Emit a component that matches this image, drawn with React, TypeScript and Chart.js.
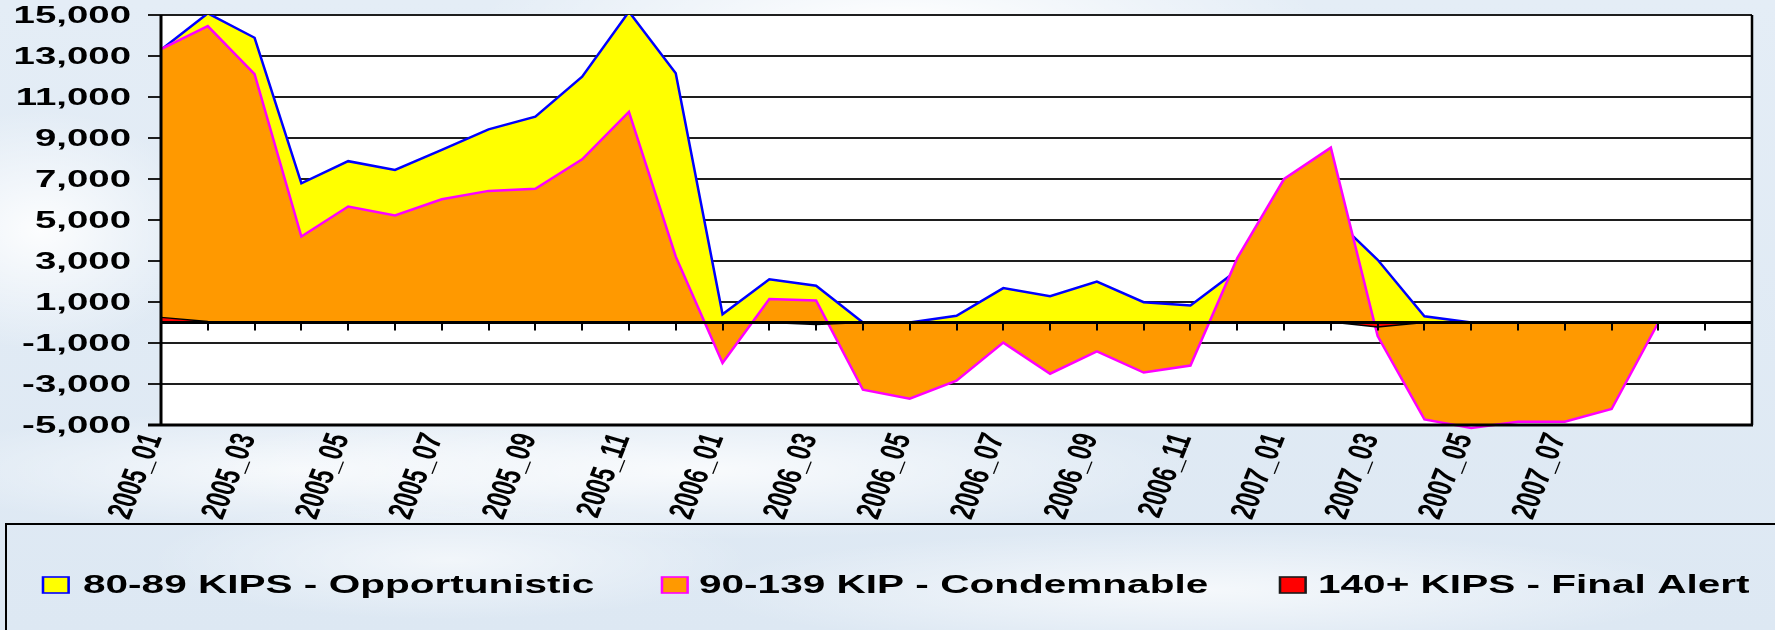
import React, { useEffect, useRef } from 'react';
import { Chart, registerables } from 'chart.js';

Chart.register(...registerables);

// ---------------- data ----------------
const categories = [
  '2005_01', '2005_02', '2005_03', '2005_04', '2005_05', '2005_06', '2005_07', '2005_08', '2005_09', '2005_10', '2005_11', '2005_12',
  '2006_01', '2006_02', '2006_03', '2006_04', '2006_05', '2006_06', '2006_07', '2006_08', '2006_09', '2006_10', '2006_11', '2006_12',
  '2007_01', '2007_02', '2007_03', '2007_04', '2007_05', '2007_06', '2007_07', '2007_08', '2007_09', '2007_10', '2007_11',
];

const shownLabelIndices = [0, 2, 4, 6, 8, 10, 12, 14, 16, 18, 20, 22, 24, 26, 28, 30];

const opportunistic = [
  13300, 15080, 13890, 6790, 7870, 7440, 8420, 9420, 10040, 11990, 15160, 12160,
  400, 2110, 1790, 0, 0, 330, 1680, 1280, 2000, 990, 830, 2550,
  4500, 5250, 3060, 300, 0, 0, 0, 0, 0, 0, 0,
];

const condemnable = [
  13340, 14460, 12110, 4190, 5660, 5220, 6010, 6420, 6520, 7960, 10270, 3220,
  -1980, 1150, 1070, -3280, -3720, -2840, -980, -2500, -1410, -2440, -2100, 3140,
  7000, 8530, -660, -4730, -5150, -4840, -4840, -4220, 0, 0, 0,
];

const finalAlert = [
  250, 50, 30, 0, 0, 0, 0, 30, 0, 30, 30, 30,
  0, 0, -100, 0, 0, 0, 0, 0, 0, 0, 0, 30,
  30, 30, -220, 0, 0, 0, 0, 0, 0, 0, 0,
];

const seriesNames = ['80-89 KIPS - Opportunistic', '90-139 KIP - Condemnable', '140+ KIPS - Final Alert'];

const yMin = -5000;
const yMax = 15000;
const yStep = 2000;

// ---------------- plugins ----------------
const FONT = '"Liberation Sans", Arial, sans-serif';
const STRETCH = 1.6;

const framePlugin = {
  id: 'framePlugin',
  beforeDraw(chart: any) {
    const { ctx, chartArea } = chart;
    ctx.save();
    ctx.fillStyle = '#ffffff';
    ctx.fillRect(chartArea.left, chartArea.top, chartArea.right - chartArea.left, chartArea.bottom - chartArea.top);
    ctx.restore();
  },
  afterDatasetsDraw(chart: any) {
    const { ctx, chartArea, scales } = chart;
    const x = scales.x;
    const y = scales.y;
    const y0 = y.getPixelForValue(0);
    ctx.save();
    ctx.strokeStyle = '#000000';
    // zero axis line
    ctx.lineWidth = 3;
    ctx.beginPath();
    ctx.moveTo(chartArea.left, y0);
    ctx.lineTo(chartArea.right, y0);
    ctx.stroke();
    // tick marks on zero line
    ctx.lineWidth = 2;
    for (let i = 1; i < categories.length; i++) {
      const px = Math.round(x.getPixelForValue(i));
      ctx.beginPath();
      ctx.moveTo(px, y0);
      ctx.lineTo(px, y0 + 8);
      ctx.stroke();
    }
    // right border
    ctx.lineWidth = 2.5;
    ctx.beginPath();
    ctx.moveTo(chartArea.right, chartArea.top);
    ctx.lineTo(chartArea.right, chartArea.bottom);
    ctx.stroke();
    // bottom border
    ctx.lineWidth = 3;
    ctx.beginPath();
    ctx.moveTo(chartArea.left - 13, chartArea.bottom);
    ctx.lineTo(chartArea.right + 1, chartArea.bottom);
    ctx.stroke();
    // left border
    ctx.beginPath();
    ctx.moveTo(chartArea.left, chartArea.top);
    ctx.lineTo(chartArea.left, chartArea.bottom);
    ctx.stroke();
    ctx.restore();
  },
  afterDraw(chart: any) {
    const { ctx, chartArea, scales } = chart;
    const x = scales.x;
    const y = scales.y;
    ctx.save();
    ctx.fillStyle = '#000000';
    // y labels (horizontally stretched)
    ctx.font = `bold 24px ${FONT}`;
    ctx.textAlign = 'right';
    ctx.textBaseline = 'middle';
    y.ticks.forEach((t: any) => {
      const py = y.getPixelForValue(t.value);
      ctx.save();
      ctx.translate(131, py + 1);
      ctx.scale(STRETCH, 1);
      ctx.fillText(Number(t.value).toLocaleString('en-US'), 0, 0);
      ctx.restore();
    });
    // x labels (rotated + stretched)
    ctx.font = `italic bold 22px ${FONT}`;
    ctx.textAlign = 'right';
    ctx.textBaseline = 'middle';
    shownLabelIndices.forEach((i) => {
      const px = x.getPixelForValue(i);
      ctx.save();
      ctx.translate(px - 8, chartArea.bottom + 10);
      ctx.scale(STRETCH, 1);
      ctx.rotate((-76 * Math.PI) / 180);
      ctx.fillText(categories[i], 0, 0);
      ctx.restore();
    });
    // legend frame
    ctx.strokeStyle = '#000000';
    ctx.lineWidth = 2;
    ctx.strokeRect(6, 524, 1800, 200);
    const items = [
      { box: 43, text: 83, fill: '#ffff00', stroke: '#0000ff' },
      { box: 662, text: 699, fill: '#ff9900', stroke: '#ff00ff' },
      { box: 1280, text: 1318, fill: '#ff0000', stroke: '#1a1a1a' },
    ];
    ctx.textAlign = 'left';
    ctx.textBaseline = 'middle';
    items.forEach((it, k) => {
      ctx.save();
      ctx.translate(it.box, 577);
      ctx.scale(STRETCH, 1);
      ctx.fillStyle = it.fill;
      ctx.fillRect(0, 0, 16, 16);
      ctx.strokeStyle = it.stroke;
      ctx.lineWidth = 1.6;
      ctx.strokeRect(0, 0, 16, 16);
      ctx.restore();
      ctx.save();
      ctx.fillStyle = '#000000';
      ctx.font = `bold 25.5px ${FONT}`;
      ctx.translate(it.text, 586);
      ctx.scale(1.59, 1);
      ctx.fillText(chart.data.datasets[k].label, 0, 0);
      ctx.restore();
    });
    ctx.restore();
  },
};

export default function App() {
  const canvasRef = useRef<HTMLCanvasElement | null>(null);

  useEffect(() => {
    document.body.style.margin = '0';
    const canvas = canvasRef.current;
    if (!canvas) return;
    const chart = new Chart(canvas, {
      type: 'line',
      data: {
        labels: categories,
        datasets: [
          {
            label: seriesNames[0],
            data: opportunistic,
            fill: 'origin',
            backgroundColor: '#ffff00',
            borderColor: '#0000ff',
            borderWidth: 2.5,
            pointRadius: 0,
            tension: 0,
            order: 3,
          },
          {
            label: seriesNames[1],
            data: condemnable,
            fill: 'origin',
            backgroundColor: '#ff9900',
            borderColor: '#ff00ff',
            borderWidth: 2.5,
            pointRadius: 0,
            tension: 0,
            order: 2,
            clip: false,
          },
          {
            label: seriesNames[2],
            data: finalAlert,
            fill: 'origin',
            backgroundColor: '#ff0000',
            borderColor: '#000000',
            borderWidth: 1.5,
            pointRadius: 0,
            tension: 0,
            order: 1,
          },
        ],
      },
      options: {
        responsive: false,
        animation: false,
        devicePixelRatio: 1,
        layout: { padding: { left: 161, right: 23, top: 15, bottom: 205 } },
        plugins: {
          legend: { display: false },
          title: { display: false },
          tooltip: { enabled: false },
        },
        scales: {
          x: {
            type: 'category',
            offset: false,
            grid: { display: false },
            border: { display: false },
            ticks: { display: false, autoSkip: false },
            afterFit: (s: any) => {
              s.height = 0;
            },
          },
          y: {
            min: yMin,
            max: yMax,
            ticks: { display: false, stepSize: yStep },
            grid: { color: '#1e1e1e', lineWidth: 2, drawTicks: true, tickLength: 13 },
            border: { display: false },
            afterFit: (s: any) => {
              s.width = 0;
            },
          },
        },
      },
      plugins: [framePlugin],
    });
    return () => chart.destroy();
  }, []);

  const bg =
    'radial-gradient(ellipse 420px 90px at 900px 20px, rgba(255,255,255,0.95), rgba(255,255,255,0) 100%),' +
    'radial-gradient(ellipse 160px 120px at 40px 230px, rgba(255,255,255,0.9), rgba(255,255,255,0) 100%),' +
    'radial-gradient(ellipse 500px 70px at 700px 470px, rgba(255,255,255,0.8), rgba(255,255,255,0) 100%),' +
    'radial-gradient(ellipse 400px 60px at 300px 470px, rgba(255,255,255,0.7), rgba(255,255,255,0) 100%),' +
    'radial-gradient(ellipse 500px 60px at 1200px 590px, rgba(255,255,255,0.7), rgba(255,255,255,0) 100%),' +
    'radial-gradient(ellipse 300px 60px at 450px 560px, rgba(255,255,255,0.6), rgba(255,255,255,0) 100%),' +
    'linear-gradient(180deg, #e4edf6 0%, #dde8f3 100%)';

  return (
    <div style={{ width: 1775, height: 630, position: 'relative', background: bg, overflow: 'hidden' }}>
      <canvas ref={canvasRef} width={1775} height={630} style={{ display: 'block' }} />
    </div>
  );
}
